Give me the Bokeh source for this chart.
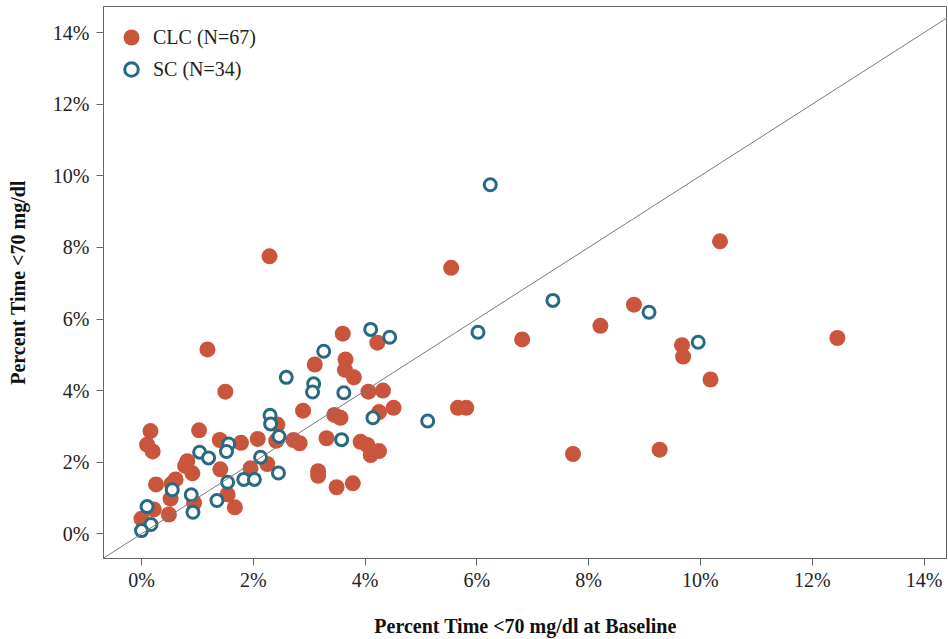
from bokeh.plotting import figure
from bokeh.models import FixedTicker, PrintfTickFormatter, Slope, Range1d, Legend, LegendItem
from bokeh.embed import file_html
from bokeh.resources import INLINE

# CLC group (filled)
clc_x = [2.29, 1.18, 5.54, 10.35, 12.45, 8.81, 8.21, 9.67, 9.69, 10.18, 7.72, 9.27,
         6.81, 5.66, 5.81, 4.51, 3.60, 4.22, 3.10, 3.65, 3.64, 3.80, 4.06, 4.32,
         2.89, 3.45, 3.56, 4.25, 1.50, 3.31, 3.92, 4.04, 4.10, 4.25, 3.16, 3.16,
         3.49, 3.78, 0.16, 0.10, 0.20, 1.03, 1.40, 1.78, 2.08, 2.43, 2.41, 2.72,
         2.83, 0.82, 0.78, 0.91, 1.41, 1.95, 2.25, 0.26, 0.61, 0.54, 0.52, 1.54,
         0.94, 0.22, 0.49, 1.67, 0.00]
clc_y = [7.75, 5.15, 7.43, 8.17, 5.47, 6.40, 5.81, 5.27, 4.95, 4.31, 2.23, 2.35,
         5.43, 3.52, 3.52, 3.52, 5.59, 5.34, 4.73, 4.87, 4.58, 4.37, 3.97, 4.00,
         3.44, 3.32, 3.24, 3.40, 3.97, 2.67, 2.57, 2.48, 2.20, 2.31, 1.75, 1.62,
         1.30, 1.41, 2.87, 2.49, 2.30, 2.89, 2.62, 2.54, 2.65, 3.05, 2.60, 2.62,
         2.53, 2.03, 1.90, 1.69, 1.80, 1.83, 1.95, 1.38, 1.52, 1.40, 0.98, 1.10,
         0.86, 0.68, 0.54, 0.74, 0.42]

# SC group (open)
sc_x = [6.24, 7.36, 9.08, 6.02, 9.96, 5.12, 4.10, 4.44, 3.26, 2.59, 3.08, 3.06,
        3.62, 4.14, 2.30, 2.31, 2.46, 3.58, 2.13, 1.83, 2.02, 2.45, 1.04, 1.20,
        1.56, 1.52, 0.55, 0.89, 0.92, 1.35, 1.54, 0.10, 0.17, 0.00]
sc_y = [9.75, 6.52, 6.19, 5.63, 5.35, 3.15, 5.71, 5.49, 5.10, 4.37, 4.19, 3.96,
        3.94, 3.24, 3.31, 3.07, 2.72, 2.63, 2.14, 1.52, 1.52, 1.70, 2.28, 2.12,
        2.51, 2.30, 1.23, 1.09, 0.60, 0.93, 1.44, 0.76, 0.26, 0.09]

ticks = [0, 2, 4, 6, 8, 10, 12, 14]

RED = "#C9563C"
BLUE = "#276A82"
AX = "#666666"
FONT = "Liberation Serif"

p = figure(width=947, height=639, output_backend="svg", toolbar_location=None,
           x_range=Range1d(-0.68, 14.42), y_range=Range1d(-0.69, 14.73),
           min_border_left=103, min_border_right=0, min_border_top=6, min_border_bottom=81)

p.xgrid.visible = False
p.ygrid.visible = False
p.outline_line_color = AX
p.outline_line_width = 1

p.add_layout(Slope(gradient=1, y_intercept=0, line_color="#7a7a7a", line_width=1))

r_clc = p.scatter(clc_x, clc_y, size=16, fill_color=RED, line_color=None)
r_sc = p.scatter(sc_x, sc_y, size=12, fill_color="white", line_color=BLUE, line_width=3)

for ax in (p.xaxis[0], p.yaxis[0]):
    ax.ticker = FixedTicker(ticks=ticks)
    ax.formatter = PrintfTickFormatter(format="%d%%")
    ax.minor_tick_line_color = None
    ax.major_tick_in = 0
    ax.major_tick_out = 7
    ax.axis_line_color = AX
    ax.major_tick_line_color = AX
    ax.major_label_text_font = FONT
    ax.major_label_text_font_size = "20px"
    ax.major_label_text_color = "#222222"
    ax.axis_label_text_font = FONT
    ax.axis_label_text_font_size = "20px"
    ax.axis_label_text_font_style = "bold"
    ax.axis_label_text_color = "#111111"

p.xaxis.axis_label = "Percent Time <70 mg/dl at Baseline"
p.yaxis.axis_label = "Percent Time <70 mg/dl"
p.xaxis.major_label_standoff = 3
p.yaxis.major_label_standoff = 7
p.xaxis.axis_label_standoff = 21
p.yaxis.axis_label_standoff = 21


def make_legend(label, renderer, loc, glyph, pad, standoff):
    lg = Legend(items=[LegendItem(label=label, renderers=[renderer])], location=loc)
    lg.border_line_alpha = 0
    lg.background_fill_alpha = 0
    lg.label_text_font = FONT
    lg.label_text_font_size = "20px"
    lg.label_text_color = "#222222"
    lg.margin = 0
    lg.padding = pad
    lg.glyph_width = glyph
    lg.glyph_height = glyph
    lg.label_height = glyph
    lg.spacing = 0
    lg.label_standoff = standoff
    return lg


p.add_layout(make_legend("CLC (N=67)", r_clc, (0, 493), 40, 8, 2))
p.add_layout(make_legend("SC (N=34)", r_sc, (0, 461), 34, 11, 5))

open("out.html", "w").write(file_html(p, INLINE))
